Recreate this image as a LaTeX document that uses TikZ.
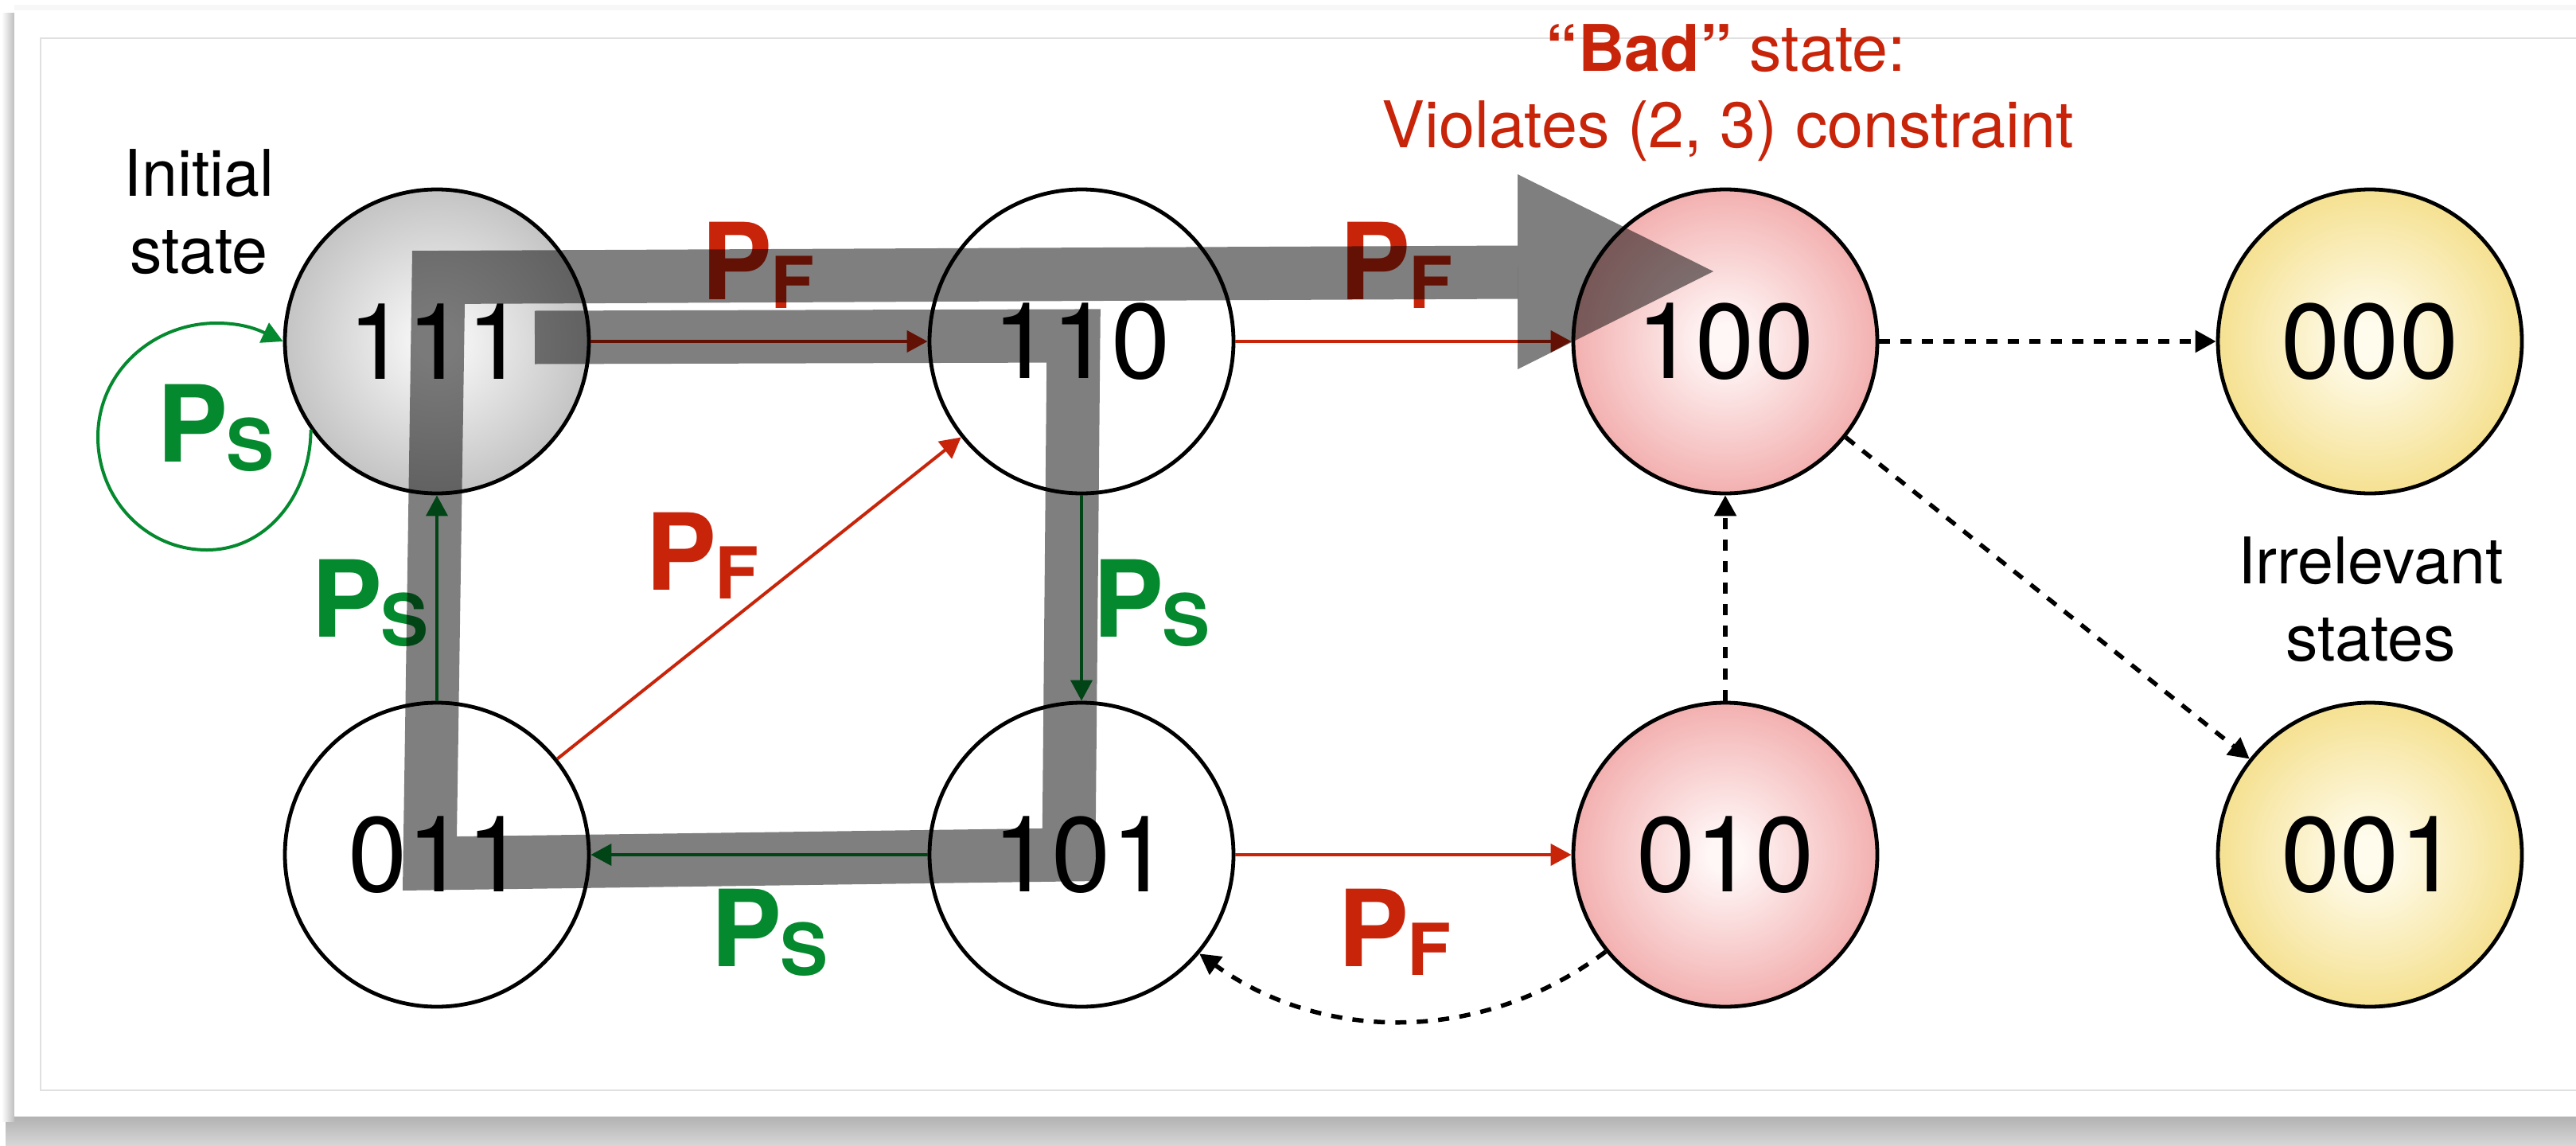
\documentclass[tikz,border=0pt]{standalone}
\usepackage{fontspec}
\setmainfont{TeX Gyre Heros}
\usetikzlibrary{arrows.meta}

\definecolor{pfred}{RGB}{200,36,10}
\definecolor{psgreen}{RGB}{4,137,46}
\definecolor{greycenter}{RGB}{246,246,246}
\definecolor{greyedge}{RGB}{196,196,196}
\definecolor{pinkcenter}{RGB}{255,246,246}
\definecolor{pinkedge}{RGB}{243,176,176}
\definecolor{yellowcenter}{RGB}{255,252,238}
\definecolor{yellowedge}{RGB}{245,225,145}
\definecolor{framegray}{RGB}{224,224,224}
\definecolor{shadowtop}{RGB}{178,178,178}
\definecolor{shadowmid}{RGB}{164,164,164}
\definecolor{shadowbot}{RGB}{214,214,214}
\definecolor{shadowside}{RGB}{190,190,190}

% radial fills of the state circles (edge of the circle at 25bp)
\pgfdeclareradialshading{greyball}{\pgfpoint{0bp}{0bp}}{color(0bp)=(greycenter); color(3bp)=(greycenter); color(25bp)=(greyedge); color(50bp)=(greyedge)}
\pgfdeclareradialshading{pinkball}{\pgfpoint{0bp}{0bp}}{color(0bp)=(pinkcenter); color(3bp)=(pinkcenter); color(25bp)=(pinkedge); color(50bp)=(pinkedge)}
\pgfdeclareradialshading{yellowball}{\pgfpoint{0bp}{0bp}}{color(0bp)=(yellowcenter); color(3bp)=(yellowcenter); color(25bp)=(yellowedge); color(50bp)=(yellowedge)}

% probability labels: big P with a lowered subscript letter
\newcommand{\problab}[1]{{\fontsize{38}{40}\selectfont\bfseries P}\kern-0.02cm\raisebox{-0.11cm}{\fontsize{25.6}{27}\selectfont\bfseries #1}}

\tikzset{
  statenode/.style={circle, draw=black, line width=0.048cm, minimum size=3.82cm,
    inner sep=0pt, font=\fontsize{38}{40}\selectfont},
  plain/.style={statenode, fill=white},
  initialnode/.style={statenode, shading=greyball},
  badnode/.style={statenode, shading=pinkball},
  irrnode/.style={statenode, shading=yellowball},
  tip/.style={-{Triangle[length=0.26cm,width=0.27cm]}},
  redarrow/.style={draw=pfred, line width=0.04cm, tip},
  greenarrow/.style={draw=psgreen, line width=0.04cm, tip},
  dotarrow/.style={draw=black, line width=0.055cm, dash pattern=on 0.14cm off 0.13cm, tip},
  lab/.style={inner sep=0pt, anchor=base west},
  note/.style={inner sep=0pt, anchor=base, font=\fontsize{23}{27}\selectfont},
  highlight/.style={draw=black, draw opacity=0.5, line width=0.67cm, line join=miter, line cap=butt},
}

\begin{document}
\begin{tikzpicture}
\useasboundingbox (0,0) rectangle (32.37,14.39);
\clip (0,0) rectangle (32.37,14.39);

% card with its drop shadow and inner border
\shade[top color=shadowtop, middle color=shadowmid, bottom color=shadowbot] (0.07,0) rectangle (32.6,0.36);
\shade[left color=white, right color=shadowside] (0.02,0.30) rectangle (0.18,14.22);
\fill[black!3] (0.18,14.26) rectangle (32.6,14.33);
\fill[white] (0.18,0.36) rectangle (32.6,14.26);
\draw[framegray, line width=0.02cm] (33,0.69) -| (0.51,13.91) -- (33,13.91);

% states
\node[initialnode] (n111) at (5.49,10.10) {111};
\node[plain]       (n110) at (13.59,10.10) {110};
\node[badnode]     (n100) at (21.68,10.10) {100};
\node[irrnode]     (n000) at (29.78,10.10) {000};
\node[plain]       (n011) at (5.49,3.65) {011};
\node[plain]       (n101) at (13.59,3.65) {101};
\node[badnode]     (n010) at (21.68,3.65) {010};
\node[irrnode]     (n001) at (29.78,3.65) {001};

% annotations
\node[note] (init1) at (2.50,11.93) {Initial};
\node[note] (init2) at (2.50,10.96) {state};
\node[note] (irr1) at (29.79,7.06) {Irrelevant};
\node[note] (irr2) at (29.79,6.09) {states};
\node[note, text=pfred] (bad1) at (21.69,13.49) {{\bfseries “Bad”} state:};
\node[note, text=pfred] (bad2) at (21.71,12.54) {Violates (2, 3) constraint};

% failure transitions
\draw[redarrow] (n111) -- (n110);
\draw[redarrow] (n110) -- (n100);
\draw[redarrow] (n011) -- (n110);
\draw[redarrow] (n101) -- (n010);

% success transitions
\draw[greenarrow] (n110) -- (n101);
\draw[greenarrow] (n101) -- (n011);
\draw[greenarrow] (n011) -- (n111);
\draw[greenarrow] (n111.215) to[out=-90,in=0] (2.60,7.48) to[out=180,in=-90] (1.23,8.90)
  to[out=90,in=180] (2.72,10.33) to[out=0,in=155] (n111.west);

% other transitions
\draw[dotarrow] (n100) -- (n000);
\draw[dotarrow] (n100) -- (n001);
\draw[dotarrow] (n010) -- (n100);
\draw[dotarrow] (n010.219) .. controls (18.6,1.25) and (16.6,1.30) .. (n101.-40);

% transition probabilities
\node[lab, text=psgreen] (lself) at (1.97,8.59) {\problab{S}};
\node[lab, text=pfred] (lf1) at (8.81,10.63) {\problab{F}};
\node[lab, text=pfred] (lf2) at (16.83,10.63) {\problab{F}};
\node[lab, text=pfred] (lf3) at (8.11,6.98) {\problab{F}};
\node[lab, text=psgreen] (ls1) at (3.91,6.39) {\problab{S}};
\node[lab, text=psgreen] (ls2) at (13.73,6.39) {\problab{S}};
\node[lab, text=psgreen] (ls3) at (8.93,2.25) {\problab{S}};
\node[lab, text=pfred] (lf4) at (16.81,2.25) {\problab{F}};

% highlighted path into the bad state
\draw[highlight] (6.72,10.15) -- (13.49,10.17) -- (13.43,3.65) -- (5.40,3.54)
  -- (5.51,10.905) -- (19.07,10.97);
\fill[black, fill opacity=0.5] (19.07,12.20) -- (21.53,10.98) -- (19.07,9.75) -- cycle;
\end{tikzpicture}
\end{document}
